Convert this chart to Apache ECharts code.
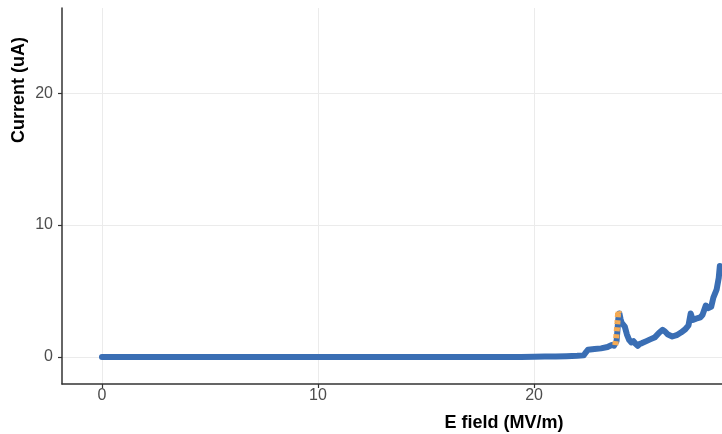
<!DOCTYPE html>
<html>
<head>
<meta charset="utf-8">
<script src="https://cdn.jsdelivr.net/npm/echarts@6/dist/echarts.min.js"></script>
<style>
  html, body { margin: 0; padding: 0; background: #fff; }
  #chart { width: 722px; height: 434px; }
</style>
</head>
<body>
<div id="chart"></div>
<script>
// Measured current vs. applied field
const fieldMain = [0, 2, 5, 8, 10, 12, 15, 18, 19.4, 20.0, 20.5, 21.0, 21.5, 22.0, 22.3, 22.4, 22.5, 22.8, 23.1, 23.4, 23.6, 23.7, 23.78,
  23.82, 23.86, 23.9, 23.95, 24.0, 24.05, 24.1, 24.2, 24.3, 24.4, 24.5, 24.6, 24.7, 24.8, 24.9, 25.0, 25.2, 25.4, 25.6, 25.8, 25.95,
  26.05, 26.2, 26.4, 26.6, 26.8, 27.0, 27.15, 27.25, 27.35, 27.5, 27.7, 27.8, 27.95, 28.05, 28.2, 28.3, 28.45, 28.55, 28.6, 28.68];
const currentMain = [0, 0, 0, 0, 0, 0, 0, 0, 0, 0.02, 0.03, 0.04, 0.06, 0.09, 0.12, 0.35, 0.55, 0.6, 0.65, 0.75, 0.9, 0.85, 0.9,
  1.2, 2.0, 2.9, 3.3, 2.9, 2.6, 2.7, 2.3, 1.7, 1.3, 1.1, 1.2, 1.0, 0.85, 1.0, 1.05, 1.2, 1.35, 1.5, 1.85, 2.05,
  1.95, 1.7, 1.55, 1.65, 1.85, 2.1, 2.4, 3.3, 2.8, 2.9, 3.0, 3.2, 3.9, 3.7, 3.8, 4.5, 5.1, 6.0, 6.9, 6.8];

// Highlighted sweep segment around the first spike
const fieldSpike = [23.76, 23.8, 23.83, 23.86, 23.88, 23.9, 23.92];
const currentSpike = [0.9, 1.4, 2.0, 2.6, 3.1, 3.5, 3.3];

const xTicks = [0, 10, 20];
const yTicks = [0, 10, 20];

const toPairs = (xs, ys) => xs.map((x, i) => [x, ys[i]]);

const chart = echarts.init(document.getElementById('chart'), null, { renderer: 'canvas' });

const gridLine = { show: true, lineStyle: { color: '#ebebeb', width: 1 } };
const axisLine = { show: true, onZero: false, lineStyle: { color: '#333333', width: 1.5 } };
const axisTick = { show: true, length: 4, lineStyle: { color: '#333333', width: 1.2 } };

chart.setOption({
  animation: false,
  backgroundColor: '#ffffff',
  grid: { left: 62, right: 0, top: 8, bottom: 50, containLabel: false },
  xAxis: {
    type: 'value',
    min: -1.85,
    max: 28.7,
    axisLine: axisLine,
    axisTick: Object.assign({ customValues: xTicks }, axisTick),
    axisLabel: { customValues: xTicks, margin: 4, color: '#4d4d4d', fontSize: 16, fontFamily: 'Liberation Sans, Arial, sans-serif' },
    splitLine: gridLine
  },
  yAxis: {
    type: 'value',
    min: -2.05,
    max: 26.45,
    axisLine: axisLine,
    axisTick: Object.assign({ customValues: yTicks }, axisTick),
    axisLabel: { customValues: yTicks, margin: 9, color: '#4d4d4d', fontSize: 16, fontFamily: 'Liberation Sans, Arial, sans-serif' },
    splitLine: gridLine
  },
  graphic: [
    {
      type: 'text',
      x: 19, y: 90, rotation: Math.PI / 2,
      style: { text: 'Current (uA)', fontSize: 18, fontWeight: 'bold', fill: '#000', align: 'center', verticalAlign: 'middle',
        fontFamily: 'Liberation Sans, Arial, sans-serif' }
    },
    {
      type: 'text',
      x: 504, y: 423,
      style: { text: 'E field (MV/m)', fontSize: 18, fontWeight: 'bold', fill: '#000', align: 'center', verticalAlign: 'middle',
        fontFamily: 'Liberation Sans, Arial, sans-serif' }
    }
  ],
  series: [
    {
      type: 'line',
      data: toPairs(fieldMain, currentMain),
      showSymbol: false,
      clip: true,
      lineStyle: { color: '#3a6eb4', width: 6, join: 'round', cap: 'round' }
    },
    {
      type: 'line',
      data: toPairs(fieldSpike, currentSpike),
      showSymbol: false,
      clip: true,
      lineStyle: { color: '#f5ab55', width: 6, type: [4, 3] }
    }
  ]
});
</script>
</body>
</html>
